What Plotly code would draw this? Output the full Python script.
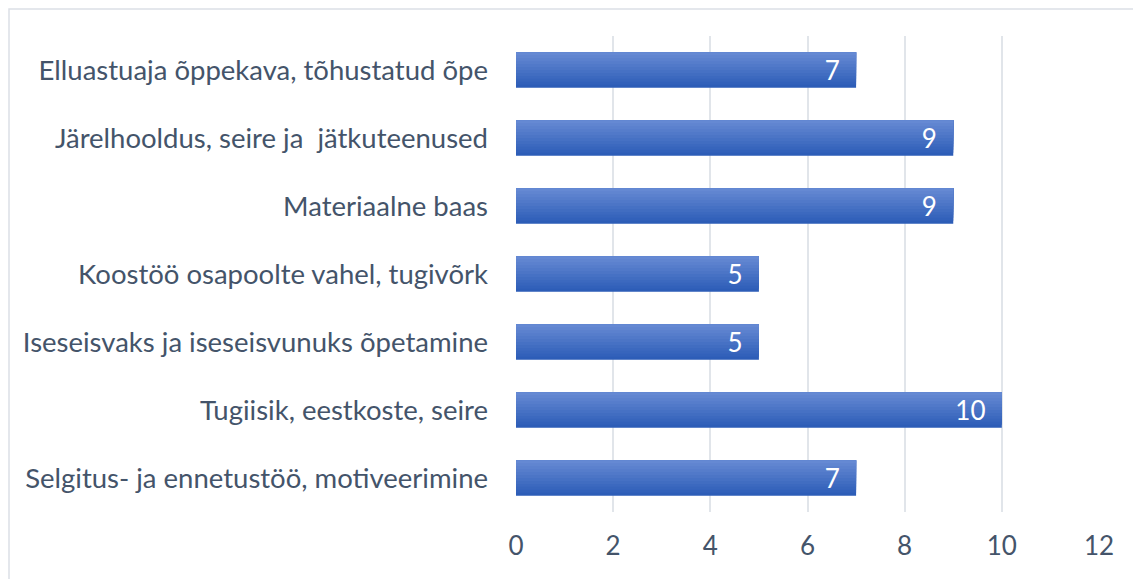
import plotly.graph_objects as go

categories = [
    "Selgitus- ja ennetustöö, motiveerimine",
    "Tugiisik, eestkoste, seire",
    "Iseseisvaks ja iseseisvunuks õpetamine",
    "Koostöö osapoolte vahel, tugivõrk",
    "Materiaalne baas",
    "Järelhooldus, seire ja  jätkuteenused",
    "Elluastuaja õppekava, tõhustatud õpe",
]
values = [7, 10, 5, 5, 9, 9, 7]
x_ticks = [0, 2, 4, 6, 8, 10, 12]

FONT = "Lato"
TEXT_COLOR = "#44546A"
BAR_W = 0.52
N_STRIPS = 12
top_rgb = (0x65, 0x89, 0xD3)
bot_rgb = (0x2D, 0x5D, 0xB7)

fig = go.Figure()
# gradient bar: nested bars, each one covering from its start to the bar's top edge
for i in range(N_STRIPS):
    t = i / (N_STRIPS - 1)
    r, g, b = [round(bot_rgb[k] + (top_rgb[k] - bot_rgb[k]) * t) for k in range(3)]
    w = BAR_W / N_STRIPS
    fig.add_trace(go.Bar(
        y=categories, x=values, orientation="h",
        width=BAR_W - i * w, offset=-BAR_W / 2 + i * w,
        marker=dict(color=f"rgb({r},{g},{b})", line=dict(width=0)),
        hoverinfo="skip", showlegend=False,
    ))

# value labels
fig.add_trace(go.Bar(
    y=categories, x=values, orientation="h",
    width=BAR_W, offset=-BAR_W / 2,
    marker=dict(color="rgba(0,0,0,0)", line=dict(width=0)),
    texttemplate="%{x}\u00a0\u00a0", textposition="inside",
    insidetextanchor="end", textangle=0, constraintext="none",
    textfont=dict(family=FONT, size=26, color="white"),
    showlegend=False,
))

W, H = 1133, 571
L, R, T, B = 508, 42, 28, 67
fig.update_layout(
    barmode="overlay",
    width=W, height=H,
    margin=dict(l=L, r=R, t=T, b=B, autoexpand=False),
    paper_bgcolor="white", plot_bgcolor="white",
    font=dict(family=FONT, color=TEXT_COLOR),
    uniformtext=dict(mode=False),
    xaxis=dict(
        range=[0, 12], tickvals=x_ticks, showgrid=True,
        gridcolor="#E1E5EA", gridwidth=2, zeroline=False, showline=False,
        tickfont=dict(family=FONT, size=26, color=TEXT_COLOR),
        ticklabelstandoff=16,
    ),
    yaxis=dict(
        showgrid=False, zeroline=False, showline=False,
        tickfont=dict(family=FONT, size=27.5, color=TEXT_COLOR),
        ticklabelstandoff=27,
    ),
    shapes=[dict(
        type="rect", xref="paper", yref="paper",
        x0=(1 - L) / (W - L - R), x1=1.2,
        y0=-0.3, y1=(H - B - 1) / (H - T - B),
        line=dict(color="#DCE0E6", width=1.5), fillcolor="rgba(0,0,0,0)",
        layer="below",
    )],
)

fig.write_html("out.html")
